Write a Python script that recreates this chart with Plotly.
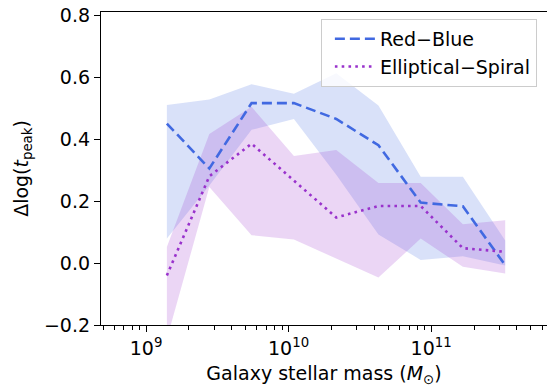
import plotly.graph_objects as go

# Galaxy stellar mass bins (solar masses)
mass = [1.40e9, 2.78e9, 5.50e9, 1.09e10, 2.16e10, 4.27e10, 8.45e10, 1.67e11, 3.31e11]

# Red - Blue offset in log(t_peak) with its uncertainty envelope
red_blue = [0.450, 0.305, 0.516, 0.516, 0.465, 0.380, 0.195, 0.183, -0.007]
red_blue_hi = [0.510, 0.528, 0.577, 0.546, 0.612, 0.508, 0.278, 0.278, 0.073]
red_blue_lo = [0.079, 0.250, 0.430, 0.465, 0.285, 0.092, 0.010, 0.022, -0.008]

# Elliptical - Spiral offset in log(t_peak) with its uncertainty envelope
ell_spi = [-0.040, 0.280, 0.385, 0.266, 0.147, 0.184, 0.184, 0.048, 0.036]
ell_spi_hi = [0.052, 0.416, 0.504, 0.345, 0.365, 0.258, 0.258, 0.125, 0.138]
ell_spi_lo = [-0.245, 0.245, 0.090, 0.076, 0.015, -0.047, 0.079, -0.012, -0.034]

y_ticks = [-0.2, 0.0, 0.2, 0.4, 0.6, 0.8]
x_ticks = [1e9, 1e10, 1e11]
x_ticktext = ["10<sup>9</sup>", "10<sup>10</sup>", "10<sup>11</sup>"]

BLUE = "#4169E1"
PURPLE = "#9932CC"
FONT = "DejaVu Sans"


def band(x, lo, hi, color):
    return go.Scatter(
        x=list(x) + list(x)[::-1],
        y=list(hi) + list(lo)[::-1],
        fill="toself",
        fillcolor=color,
        line=dict(width=0),
        mode="lines",
        hoverinfo="skip",
        showlegend=False,
    )


fig = go.Figure()
fig.add_trace(band(mass, red_blue_lo, red_blue_hi, "rgba(65,105,225,0.2)"))
fig.add_trace(band(mass, ell_spi_lo, ell_spi_hi, "rgba(153,50,204,0.2)"))
fig.add_trace(go.Scatter(
    x=mass, y=red_blue, mode="lines", name="Red\u2212Blue",
    line=dict(color=BLUE, width=2.6, dash="10px,5px"),
))
fig.add_trace(go.Scatter(
    x=mass, y=ell_spi, mode="lines", name="Elliptical\u2212Spiral",
    line=dict(color=PURPLE, width=2.6, dash="2.6px,4.2px"),
))

# minor tick positions on the log axis
minor_vals = [k * 10.0 ** n for n in range(8, 12) for k in range(2, 10)]

fig.update_layout(
    width=547, height=387,
    margin=dict(l=101, r=0, t=12, b=62),
    paper_bgcolor="white", plot_bgcolor="white",
    font=dict(family=FONT, size=19, color="black"),
    legend=dict(
        x=0.493, y=0.978, xanchor="left", yanchor="top",
        bgcolor="rgba(255,255,255,0.8)", bordercolor="#cccccc", borderwidth=1,
        font=dict(size=19), itemwidth=40, indentation=8,
    ),
    xaxis=dict(
        type="log", range=[8.684, 11.813],
        tickmode="array", tickvals=x_ticks, ticktext=x_ticktext,
        ticks="outside", ticklen=6, tickwidth=1.2, tickcolor="black",
        minor=dict(tickmode="array", tickvals=minor_vals, ticks="outside",
                   ticklen=3.5, tickwidth=1, tickcolor="black", showgrid=False),
        showgrid=False, zeroline=False,
        showline=True, linecolor="black", linewidth=1.3, mirror=True,
        title=dict(text="Galaxy stellar mass (<i>M</i><sub>\u2299</sub>)",
                   font=dict(size=19), standoff=9),
        tickfont=dict(size=19),
    ),
    yaxis=dict(
        range=[-0.2, 0.81],
        tickmode="array", tickvals=y_ticks, tickformat=".1f",
        ticks="outside", ticklen=6, tickwidth=1.2, tickcolor="black",
        showgrid=False, zeroline=False,
        showline=True, linecolor="black", linewidth=1.3,
        title=dict(text="\u0394log(<i>t</i><sub>peak</sub>)", font=dict(size=19), standoff=10),
        tickfont=dict(size=19),
    ),
)

fig.write_html("out.html")
